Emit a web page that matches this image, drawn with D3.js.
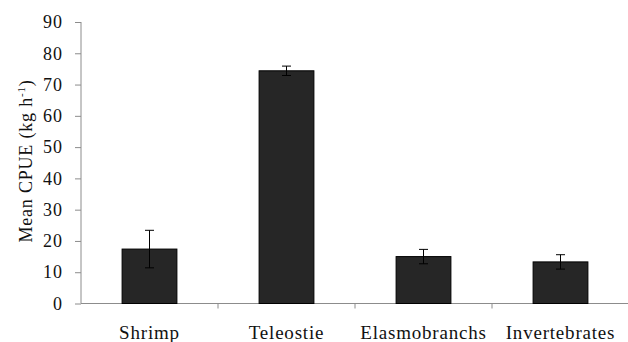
<!DOCTYPE html>
<html>
<head>
<meta charset="utf-8">
<script src="https://cdn.jsdelivr.net/npm/d3@7"></script>
<style>
  body { margin: 0; background: #fff; }
</style>
</head>
<body>
<svg id="chart" width="628" height="342"></svg>
<script>
const categories = ["Shrimp", "Teleostie", "Elasmobranchs", "Invertebrates"]
const means = [17.4, 74.4, 15.0, 13.3]
const errors = [6.0, 1.5, 2.3, 2.3]
const yTicks = [0, 10, 20, 30, 40, 50, 60, 70, 80, 90]

const FONT = "'Liberation Serif', 'Times New Roman', serif"

const svg = d3.select("#chart")
const margin = {top: 22, right: 0, bottom: 38.5, left: 81}
const width = 628 - margin.left - margin.right
const height = 342 - margin.top - margin.bottom

const g = svg.append("g")
    .attr("transform", `translate(${margin.left},${margin.top})`)

const x = d3.scaleBand()
    .domain(categories)
    .range([0, 548])
    .paddingInner(0.6)
    .paddingOuter(0.3)

const y = d3.scaleLinear()
    .domain([0, 90])
    .range([height, 0])

// y axis
const yAxis = g.append("g")
    .call(d3.axisLeft(y).tickValues(yTicks).tickSize(6).tickPadding(12))
yAxis.selectAll("path, line").attr("stroke", "#8c8c8c")
yAxis.selectAll("text")
    .style("font-family", FONT)
    .style("font-size", "18px")
    .style("letter-spacing", "1px")
    .attr("fill", "#111")
yAxis.select(".domain").attr("d", `M0,${height}V0`)

// x axis
const xAxis = g.append("g")
    .attr("transform", `translate(0,${height})`)
xAxis.append("line")
    .attr("x1", 0).attr("x2", width)
    .attr("stroke", "#8c8c8c")
xAxis.selectAll(".sep")
    .data(categories.slice(1))
    .enter().append("line")
    .attr("x1", d => x(d) - x.step() * x.paddingInner() / 2)
    .attr("x2", d => x(d) - x.step() * x.paddingInner() / 2)
    .attr("y1", 0).attr("y2", 5)
    .attr("stroke", "#8c8c8c")
xAxis.selectAll(".lab")
    .data(categories)
    .enter().append("text")
    .attr("x", d => x(d) + x.bandwidth() / 2)
    .attr("y", 35.5)
    .attr("text-anchor", "middle")
    .attr("fill", "#111")
    .style("font-family", FONT)
    .style("font-size", "19px")
    .style("letter-spacing", "0.8px")
    .text(d => d)

// bars
g.selectAll(".bar")
    .data(categories)
    .enter().append("rect")
    .attr("x", d => x(d))
    .attr("width", x.bandwidth())
    .attr("y", (d, i) => y(means[i]))
    .attr("height", (d, i) => height - y(means[i]))
    .attr("fill", "#262626")
    .attr("stroke", "#000")
    .attr("stroke-width", 1)

// error bars
const eb = g.selectAll(".err")
    .data(categories)
    .enter().append("g")
    .attr("transform", d => `translate(${x(d) + x.bandwidth() / 2},0)`)
eb.append("line")
    .attr("y1", (d, i) => y(means[i] + errors[i]))
    .attr("y2", (d, i) => y(means[i] - errors[i]))
    .attr("stroke", "#000")
eb.append("line")
    .attr("x1", -4.5).attr("x2", 4.5)
    .attr("y1", (d, i) => y(means[i] + errors[i]))
    .attr("y2", (d, i) => y(means[i] + errors[i]))
    .attr("stroke", "#000")
eb.append("line")
    .attr("x1", -4.5).attr("x2", 4.5)
    .attr("y1", (d, i) => y(means[i] - errors[i]))
    .attr("y2", (d, i) => y(means[i] - errors[i]))
    .attr("stroke", "#000")

// y label
const yl = svg.append("text")
    .attr("transform", "translate(32,161) rotate(-90)")
    .attr("text-anchor", "middle")
    .attr("fill", "#111")
    .style("font-family", FONT)
    .style("font-size", "18px")
    .style("letter-spacing", "0.8px")
yl.append("tspan").text("Mean CPUE (kg h")
yl.append("tspan").style("font-size", "11px").attr("dy", -7).text("-1")
yl.append("tspan").attr("dy", 7).text(")")
</script>
</body>
</html>
